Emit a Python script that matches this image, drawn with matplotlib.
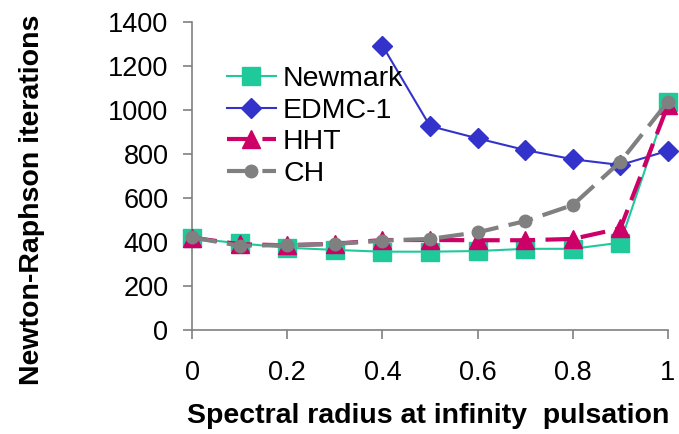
import matplotlib
matplotlib.use("Agg")
import matplotlib.pyplot as plt

plt.rcParams['font.family'] = ['Liberation Sans', 'DejaVu Sans']

x = [0, 0.1, 0.2, 0.3, 0.4, 0.5, 0.6, 0.7, 0.8, 0.9, 1.0]
newmark = [417, 394, 374, 364, 356, 356, 359, 369, 369, 397, 1038]
edmc_x = [0.4, 0.5, 0.6, 0.7, 0.8, 0.9, 1.0]
edmc = [1293, 927, 871, 818, 776, 750, 815]
hht = [420, 390, 385, 392, 409, 409, 408, 408, 414, 462, 1023]
ch = [421, 383, 386, 391, 406, 414, 444, 495, 568, 765, 1038]

xticks = [0, 0.2, 0.4, 0.6, 0.8, 1]
xticklabels = ['0', '0.2', '0.4', '0.6', '0.8', '1']
yticks = [0, 200, 400, 600, 800, 1000, 1200, 1400]

W, H = 679, 434
fig = plt.figure(figsize=(W / 100, H / 100), dpi=100)
ax = fig.add_axes([192 / W, 1 - 330 / H, 476 / W, 308 / H])

ax.plot(x, newmark, color='#1FC99A', lw=1.5, marker='s', ms=13, mec='#1FC99A', label='Newmark', clip_on=False, zorder=3)
ax.plot(edmc_x, edmc, color='#3333CC', lw=1.5, marker='D', ms=10, mec='#3333CC', label='EDMC-1', clip_on=False, zorder=4)
ax.plot(x, hht, color='#CC0066', lw=3, ls=(0, (6, 2.5)), marker='^', ms=13, mec='#CC0066', label='HHT', clip_on=False, zorder=5)
ax.plot(x, ch, color='#808080', lw=3, ls=(0, (6, 2.5)), marker='o', ms=9, mec='#808080', label='CH', clip_on=False, zorder=6)

ax.set_xlim(0, 1)
ax.set_ylim(0, 1400)
ax.set_xticks(xticks)
ax.set_xticklabels(xticklabels)
ax.set_yticks(yticks)
for s in ['top', 'right']:
    ax.spines[s].set_visible(False)
for s in ['left', 'bottom']:
    ax.spines[s].set_color('#808080')
    ax.spines[s].set_linewidth(1.2)
ax.tick_params(axis='both', direction='out', length=6.5, width=1.2, color='#808080', labelsize=19.5)
ax.tick_params(axis='y', pad=10.5)
ax.tick_params(axis='x', pad=15)

fig.text(428 / W, 1 - 416 / H, 'Spectral radius at infinity  pulsation', fontsize=20.5,
         fontweight='bold', ha='center', va='center')
fig.text(32 / W, 1 - 200 / H, 'Newton-Raphson iterations', fontsize=20.5,
         fontweight='bold', ha='center', va='center', rotation=90)

leg = ax.legend(loc='upper left', bbox_to_anchor=((227 - 192) / 476, (330 - 66) / 308), frameon=False,
                fontsize=20.5, handlelength=1.72, handletextpad=0.25, labelspacing=0.2,
                borderaxespad=0, borderpad=0)

fig.savefig('out.png', dpi=100)
